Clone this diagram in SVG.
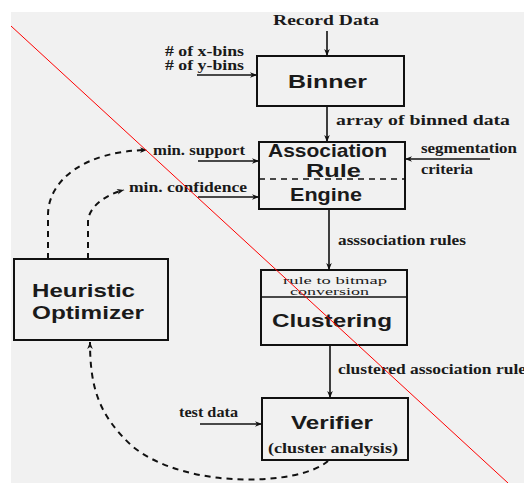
<svg xmlns="http://www.w3.org/2000/svg" width="524" height="483" viewBox="0 0 524 483">
<defs>
<marker id="ah" viewBox="0 0 10 10" refX="10" refY="5" markerWidth="8" markerHeight="7" markerUnits="userSpaceOnUse" orient="auto">
<path d="M0,1 L10,5 L0,9 L3,5 Z" fill="#111"/>
</marker>
<style>
.box{fill:none;stroke:#111;stroke-width:2}
.ln{fill:none;stroke:#111;stroke-width:1.6;marker-end:url(#ah)}
.dsh{fill:none;stroke:#111;stroke-width:2;stroke-dasharray:6 5;marker-end:url(#ah)}
.t{font-family:"Liberation Sans",Arial,sans-serif;font-weight:bold;fill:#1a1a1a;font-size:19px;text-anchor:middle}
.l{font-family:"Liberation Serif","Times New Roman",serif;font-weight:bold;fill:#1a1a1a;font-size:14px}
.s{font-family:"Liberation Serif","Times New Roman",serif;fill:#1a1a1a;font-size:10.5px;text-anchor:middle}
</style>
</defs>
<rect x="0" y="0" width="524" height="483" fill="#ffffff"/>
<rect x="11" y="12" width="513" height="471" fill="#f1f1f1"/>

<g id="connectors">
<path class="ln" d="M327,31 V56"/>
<path class="ln" d="M197,75 H257"/>
<path class="ln" d="M327,106 V142"/>
<path class="ln" d="M198,161 H259"/>
<path class="ln" d="M198,197 H259"/>
<path class="ln" d="M490,159 H405"/>
<path class="ln" d="M329,209 V270"/>
<path class="ln" d="M330,345 V398"/>
<path class="ln" d="M200,424 H262"/>
<path class="dsh" d="M48,259 V215 C48,180 85,151 147,150"/>
<path class="dsh" d="M88,259 V222 C88,208 104,195 124,190"/>
<path class="dsh" d="M328,461 C300,486 185,490 132,446 C100,416 90,390 90,342"/>
</g>

<g id="labels">
<text class="l" x="273" y="25" font-size="17" textLength="106" lengthAdjust="spacingAndGlyphs">Record Data</text>
<text class="l" x="165" y="56" font-size="12" textLength="79" lengthAdjust="spacingAndGlyphs"># of x-bins</text>
<text class="l" x="165" y="70" font-size="12" textLength="79" lengthAdjust="spacingAndGlyphs"># of y-bins</text>
<text class="l" x="336" y="125" textLength="174" lengthAdjust="spacingAndGlyphs">array of binned data</text>
<text class="l" x="153" y="155" textLength="92" lengthAdjust="spacingAndGlyphs">min. support</text>
<text class="l" x="129" y="192" textLength="118" lengthAdjust="spacingAndGlyphs">min. confidence</text>
<text class="l" x="421" y="153" textLength="96" lengthAdjust="spacingAndGlyphs">segmentation</text>
<text class="l" x="421" y="174" textLength="52" lengthAdjust="spacingAndGlyphs">criteria</text>
<text class="l" x="338" y="245" textLength="128" lengthAdjust="spacingAndGlyphs">asssociation rules</text>
<text class="l" x="338" y="374" textLength="188" lengthAdjust="spacingAndGlyphs">clustered association rule</text>
<text class="l" x="179" y="417" textLength="59" lengthAdjust="spacingAndGlyphs">test data</text>
</g>

<g id="binner">
<rect class="box" x="257" y="56" width="147" height="50"/>
<text class="t" x="327.5" y="88" textLength="79" lengthAdjust="spacingAndGlyphs">Binner</text>
</g>

<g id="association-rule-engine">
<rect class="box" x="259" y="142" width="146" height="67"/>
<line x1="259" y1="179" x2="405" y2="179" stroke="#111" stroke-width="1.6" stroke-dasharray="6 5"/>
<text class="t" x="327.5" y="157" font-size="14.5" textLength="119" lengthAdjust="spacingAndGlyphs">Association</text>
<text class="t" x="333.5" y="176.5" font-size="14.5" textLength="55" lengthAdjust="spacingAndGlyphs">Rule</text>
<text class="t" x="326" y="201" font-size="18" textLength="72" lengthAdjust="spacingAndGlyphs">Engine</text>
</g>

<g id="clustering">
<rect class="box" x="261" y="270" width="146" height="75"/>
<line x1="261" y1="297" x2="407" y2="297" stroke="#111" stroke-width="1.6"/>
<text class="s" x="335" y="284" textLength="104" lengthAdjust="spacingAndGlyphs">rule to bitmap</text>
<text class="s" x="329.5" y="294.5" textLength="79" lengthAdjust="spacingAndGlyphs">conversion</text>
<text class="t" x="332" y="327" font-size="20" textLength="120" lengthAdjust="spacingAndGlyphs">Clustering</text>
</g>

<g id="verifier">
<rect class="box" x="262" y="398" width="146" height="62"/>
<text class="t" x="332" y="429" textLength="82" lengthAdjust="spacingAndGlyphs">Verifier</text>
<text class="l" x="268" y="453" textLength="130" lengthAdjust="spacingAndGlyphs">(cluster analysis)</text>
</g>

<g id="heuristic-optimizer">
<rect class="box" x="14" y="259" width="154" height="81"/>
<text class="t" x="83.5" y="297" font-size="20" textLength="103" lengthAdjust="spacingAndGlyphs">Heuristic</text>
<text class="t" x="88" y="319" font-size="20" textLength="112" lengthAdjust="spacingAndGlyphs">Optimizer</text>
</g>

<line x1="11" y1="26" x2="508" y2="483" stroke="#ff0000" stroke-width="1"/>
</svg>
